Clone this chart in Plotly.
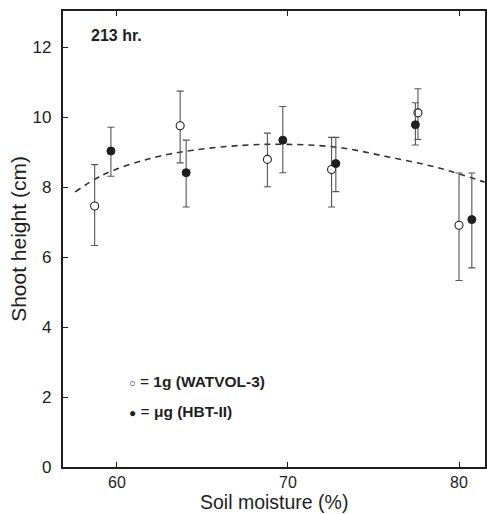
import plotly.graph_objects as go

# Soil moisture (%) of each treatment, per culture
moist_1g = [58.7, 63.7, 68.8, 72.55, 77.6, 80.0]
moist_ug = [59.65, 64.05, 69.7, 72.8, 77.45, 80.75]

# Mean shoot height (cm) and error bar ends
height_1g = [7.46, 9.75, 8.79, 8.50, 10.12, 6.91]
upper_1g = [8.64, 10.74, 9.54, 9.42, 10.81, 8.40]
lower_1g = [6.33, 8.69, 8.01, 7.43, 9.36, 5.33]

height_ug = [9.03, 8.41, 9.34, 8.67, 9.78, 7.07]
upper_ug = [9.71, 9.34, 10.30, 9.42, 10.41, 8.40]
lower_ug = [8.31, 7.43, 8.41, 7.87, 9.20, 5.69]

# Trend curve through the data
trend_x = [57.56, 59.2, 61.9, 64.44, 67.3, 70.0, 72.97, 75.87, 78.78, 81.5]
trend_y = [7.86, 8.35, 8.81, 9.05, 9.19, 9.22, 9.13, 8.86, 8.55, 8.14]

x_ticks = [60, 70, 80]
y_ticks = [0, 2, 4, 6, 8, 10, 12]

ink = "#1e1e1e"
bar_col = "#555555"

fig = go.Figure()

fig.add_trace(go.Scatter(
    x=trend_x, y=trend_y, mode="lines", line_shape="spline",
    line=dict(color="#333333", width=1.6, dash="6px,5px"),
    hoverinfo="skip", showlegend=False))


def err(h, up, lo):
    return dict(type="data", symmetric=False,
                array=[u - v for u, v in zip(up, h)],
                arrayminus=[v - l for v, l in zip(h, lo)],
                color=bar_col, thickness=1.1, width=3.5)


fig.add_trace(go.Scatter(
    x=moist_1g, y=height_1g, mode="markers", name="1g (WATVOL-3)",
    error_y=err(height_1g, upper_1g, lower_1g),
    marker=dict(symbol="circle", size=8, color="white",
                line=dict(color=ink, width=1.1)),
    showlegend=False))

fig.add_trace(go.Scatter(
    x=moist_ug, y=height_ug, mode="markers", name="μg (HBT-II)",
    error_y=err(height_ug, upper_ug, lower_ug),
    marker=dict(symbol="circle", size=8, color=ink,
                line=dict(color=ink, width=1)),
    showlegend=False))

font_family = "Liberation Sans, Arial, sans-serif"

fig.add_annotation(x=58.35, y=12.32, xref="x", yref="y", text="<b>213 hr.</b>",
                   showarrow=False, xanchor="left", yanchor="middle",
                   font=dict(size=16, color=ink, family=font_family))
fig.add_annotation(x=60.6, y=2.43, xref="x", yref="y",
                   text="<span style='font-size:11px'>○</span> = <b>1g (WATVOL-3)</b>",
                   showarrow=False, xanchor="left", yanchor="middle",
                   font=dict(size=15.5, color=ink, family=font_family))
fig.add_annotation(x=60.6, y=1.6, xref="x", yref="y",
                   text="<span style='font-size:12px'>●</span> = <b>μg (HBT-II)</b>",
                   showarrow=False, xanchor="left", yanchor="middle",
                   font=dict(size=15.5, color=ink, family=font_family))

# x-axis title, placed below the tick labels
fig.add_annotation(x=0.5, y=-0.0775, xref="paper", yref="paper",
                   text="Soil moisture (%)", showarrow=False, borderpad=0,
                   xanchor="center", yanchor="middle",
                   font=dict(size=19.5, color=ink, family=font_family))

fig.update_layout(
    width=487, height=514,
    margin=dict(l=63, r=0, t=11, b=47),
    paper_bgcolor="white", plot_bgcolor="white",
    font=dict(family=font_family, color=ink),
    showlegend=False,
    xaxis=dict(range=[56.85, 81.52], tickvals=x_ticks, ticks="inside",
               ticklen=5, tickwidth=1, tickcolor=ink,
               showline=True, linewidth=2.2, linecolor=ink, mirror="ticks",
               showgrid=False, zeroline=False,
               tickfont=dict(size=16, color=ink)),
    yaxis=dict(range=[0, 13.03], tickvals=y_ticks, ticks="inside",
               ticklen=5, tickwidth=1, tickcolor=ink,
               showline=True, linewidth=2.2, linecolor=ink, mirror=True,
               showgrid=False, zeroline=False,
               ticklabelstandoff=6,
               tickfont=dict(size=17, color=ink),
               title=dict(text="Shoot height (cm)", font=dict(size=21, color=ink),
                          standoff=0)),
)

fig.write_html("out.html")
